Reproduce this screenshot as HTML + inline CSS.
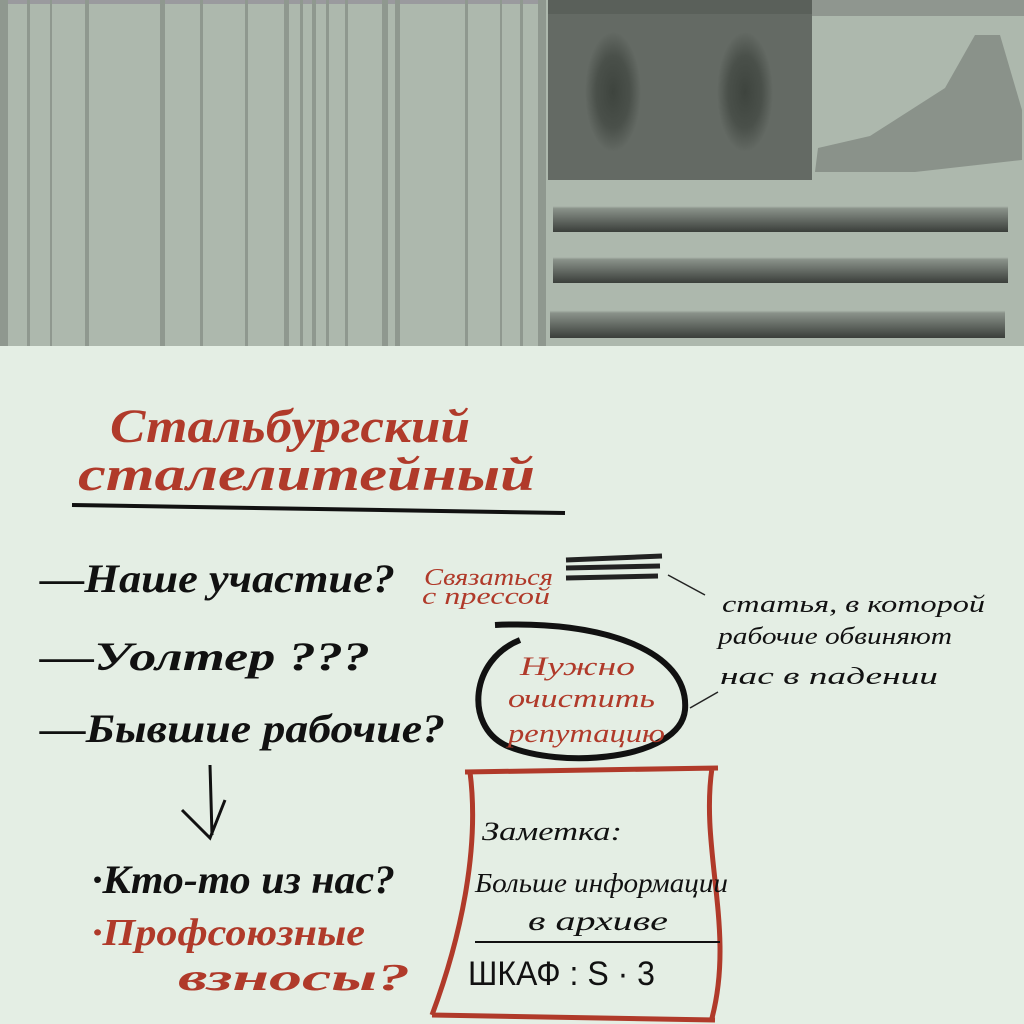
<!DOCTYPE html>
<html><head><meta charset="utf-8"><style>
html,body{margin:0;padding:0;width:1024px;height:1024px;overflow:hidden;background:#e4eee4}
</style></head><body>
<svg width="1024" height="1024" xmlns="http://www.w3.org/2000/svg">
<defs>
<linearGradient id="bar" x1="0" y1="0" x2="0" y2="1">
<stop offset="0" stop-color="#adb8ad"/><stop offset="0.45" stop-color="#adb8ad"/>
<stop offset="0.5" stop-color="#8a928a"/><stop offset="1" stop-color="#3a3e3a"/></linearGradient>
<radialGradient id="hole" cx="0.5" cy="0.5" r="0.5"><stop offset="0" stop-color="#3e443e"/><stop offset="0.6" stop-color="#4a504a"/><stop offset="1" stop-color="#646a64"/></radialGradient>
</defs>
<rect x="0" y="0" width="1024" height="346" fill="#adb8ad"/>
<rect x="0" y="0" width="545" height="4" fill="#9a9a9e"/>
<g fill="#8f988f">
<rect x="0" y="0" width="8" height="346"/><rect x="27" y="0" width="3" height="346"/>
<rect x="50" y="0" width="2" height="346"/><rect x="85" y="0" width="4" height="346"/>
<rect x="160" y="0" width="5" height="346"/><rect x="200" y="0" width="3" height="346"/>
<rect x="245" y="0" width="3" height="346"/><rect x="284" y="0" width="5" height="346"/>
<rect x="300" y="0" width="3" height="346"/><rect x="312" y="0" width="4" height="346"/>
<rect x="326" y="0" width="3" height="346"/><rect x="345" y="0" width="3" height="346"/>
<rect x="382" y="0" width="6" height="346"/><rect x="395" y="0" width="5" height="346"/>
<rect x="465" y="0" width="3" height="346"/><rect x="500" y="0" width="2" height="346"/>
<rect x="520" y="0" width="3" height="346"/><rect x="538" y="0" width="8" height="346"/>
</g>
<rect x="548" y="0" width="264" height="180" fill="#646a64"/>
<rect x="548" y="0" width="264" height="14" fill="#5a605a"/>
<rect x="812" y="0" width="212" height="16" fill="#8f968f"/>
<ellipse cx="613" cy="92" rx="28" ry="60" fill="url(#hole)"/>
<ellipse cx="745" cy="92" rx="28" ry="60" fill="url(#hole)"/>
<polygon points="975,35 1000,35 1022,110 1022,160 915,172 815,172 818,148 870,136 945,88" fill="#8a928a"/>
<rect x="553" y="185" width="455" height="47" fill="url(#bar)"/>
<rect x="553" y="236" width="455" height="47" fill="url(#bar)"/>
<rect x="550" y="288" width="455" height="50" fill="url(#bar)"/>

<g font-family="'Liberation Serif','DejaVu Serif',serif" font-style="italic" font-weight="bold" lengthAdjust="spacingAndGlyphs">
<text x="110" y="442" font-size="48" fill="#b03a2a" textLength="360" lengthAdjust="spacingAndGlyphs">Стальбургский</text>
<text x="78" y="490" font-size="48" fill="#b03a2a" textLength="457" lengthAdjust="spacingAndGlyphs">сталелитейный</text>
<path d="M72 505 L565 513" stroke="#111" stroke-width="4" fill="none"/>
<text x="40" y="592" font-size="40" fill="#111" textLength="355" lengthAdjust="spacingAndGlyphs">—Наше участие?</text>
<text x="40" y="670" font-size="40" fill="#111" textLength="330" lengthAdjust="spacingAndGlyphs">—Уолтер ???</text>
<text x="40" y="742" font-size="40" fill="#111" textLength="405" lengthAdjust="spacingAndGlyphs">—Бывшие рабочие?</text>
<path d="M210 765 L212 835 M182 810 L210 838 L225 800" stroke="#111" stroke-width="3" fill="none"/>
<text x="92" y="893" font-size="40" fill="#111" textLength="303" lengthAdjust="spacingAndGlyphs">·Кто-то из нас?</text>
<text x="92" y="945" font-size="38" fill="#b03a2a" textLength="273" lengthAdjust="spacingAndGlyphs">·Профсоюзные</text>
<text x="178" y="990" font-size="38" fill="#b03a2a" textLength="232" lengthAdjust="spacingAndGlyphs">взносы?</text>
<text x="424" y="585" font-size="24" fill="#b03a2a" font-weight="normal" textLength="129" lengthAdjust="spacingAndGlyphs">Связаться</text>
<text x="422" y="604" font-size="24" fill="#b03a2a" font-weight="normal" textLength="128" lengthAdjust="spacingAndGlyphs">с прессой</text>
<path d="M566 560 L662 556 M566 568 L660 566 M566 578 L658 576" stroke="#222" stroke-width="5"/>
<path d="M668 575 L705 595" stroke="#222" stroke-width="1.5"/>
<text x="722" y="612" font-size="24" fill="#111" font-weight="normal" textLength="263" lengthAdjust="spacingAndGlyphs">статья, в которой</text>
<text x="718" y="644" font-size="24" fill="#111" font-weight="normal" textLength="234" lengthAdjust="spacingAndGlyphs">рабочие обвиняют</text>
<text x="720" y="684" font-size="24" fill="#111" font-weight="normal" textLength="218" lengthAdjust="spacingAndGlyphs">нас в падении</text>
<path d="M690 708 L718 692" stroke="#222" stroke-width="1.5"/>
<path d="M495 625 C600 620 690 650 685 710 C680 760 560 770 505 745 C465 725 470 660 520 640" stroke="#111" stroke-width="6" fill="none"/>
<text x="520" y="675" font-size="26" fill="#b03a2a" font-weight="normal" textLength="115" lengthAdjust="spacingAndGlyphs">Нужно</text>
<text x="508" y="707" font-size="26" fill="#b03a2a" font-weight="normal" textLength="147" lengthAdjust="spacingAndGlyphs">очистить</text>
<text x="508" y="742" font-size="26" fill="#b03a2a" font-weight="normal" textLength="157" lengthAdjust="spacingAndGlyphs">репутацию</text>
<path d="M465 772 L718 768 M470 772 C480 850 460 940 432 1015 M712 768 C700 850 735 930 712 1018 M432 1015 L715 1020" stroke="#b03a2a" stroke-width="5" fill="none"/>
<text x="482" y="840" font-size="26" fill="#111" font-weight="normal" textLength="140" lengthAdjust="spacingAndGlyphs">Заметка:</text>
<text x="475" y="892" font-size="27" fill="#111" font-weight="normal" textLength="253" lengthAdjust="spacingAndGlyphs">Больше информации</text>
<text x="528" y="930" font-size="27" fill="#111" font-weight="normal" textLength="140" lengthAdjust="spacingAndGlyphs">в архиве</text>
<path d="M475 942 L720 942" stroke="#111" stroke-width="2"/>
<text x="468" y="985" font-size="34" fill="#111" font-style="normal" font-weight="normal" font-family="'Liberation Sans',sans-serif" textLength="187" lengthAdjust="spacingAndGlyphs">ШКАФ : S · 3</text>
</g>
</svg>
</body></html>
